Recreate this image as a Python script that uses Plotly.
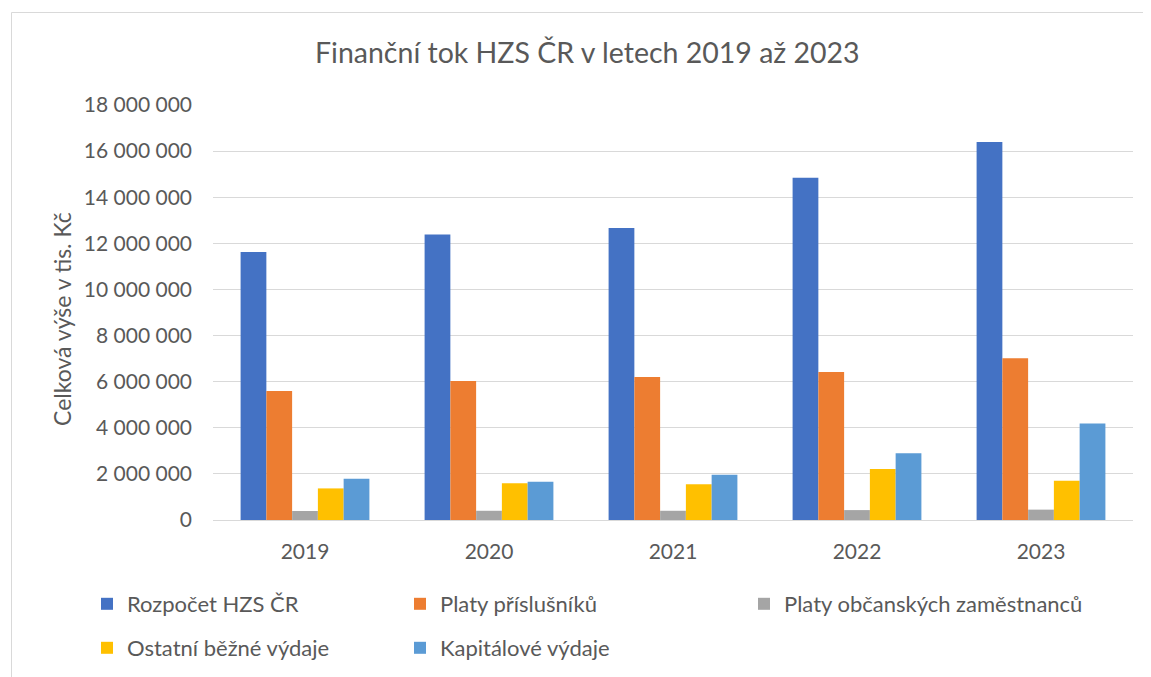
import plotly.graph_objects as go

years = ["2019", "2020", "2021", "2022", "2023"]
series_names = ["Rozpočet HZS ČR", "Platy příslušníků", "Platy občanských zaměstnanců",
                "Ostatní běžné výdaje", "Kapitálové výdaje"]
rozpocet = [11620000, 12380000, 12670000, 14840000, 16400000]
platy_prislusniku = [5590000, 6030000, 6200000, 6420000, 7020000]
platy_obcanskych = [390000, 400000, 400000, 430000, 450000]
ostatni_bezne = [1370000, 1590000, 1550000, 2210000, 1700000]
kapitalove = [1790000, 1660000, 1960000, 2890000, 4190000]
colors = ["#4472C4", "#ED7D31", "#A5A5A5", "#FFC000", "#5B9BD5"]
y_ticks = [0, 2000000, 4000000, 6000000, 8000000, 10000000, 12000000, 14000000, 16000000, 18000000]

values = [rozpocet, platy_prislusniku, platy_obcanskych, ostatni_bezne, kapitalove]

OFF = 8  # page body margin
W, H = 1151, 677
L, R, T, B = 213 - OFF, 1133 - OFF, 105 - OFF, 520 - OFF
pw, ph = R - L, B - T

def px(x):
    return (x - OFF - L) / pw

def py(y):
    return (B - (y - OFF)) / ph

FONT = "Lato"
TXT = "#595959"

fig = go.Figure()
legend_ids = ["legend", "legend2", "legend3", "legend4", "legend5"]
for i, (name, vals) in enumerate(zip(series_names, values)):
    fig.add_trace(go.Bar(
        x=years, y=vals, name=name, marker_color=colors[i],
        marker_line_width=0, legend=legend_ids[i], hoverinfo="skip"))

leg_pos = [(103, 604), (416, 604), (760, 604), (103, 648), (416, 648)]
legends = {}
for lid, (lx, ly) in zip(legend_ids, leg_pos):
    legends[lid] = dict(
        x=px(lx - 16), y=py(ly), xanchor="left", yanchor="middle",
        orientation="h", font=dict(family=FONT, size=22, color=TXT),
        bgcolor="rgba(0,0,0,0)", itemwidth=30, itemclick=False, itemdoubleclick=False)

fig.update_layout(
    width=W, height=H,
    margin=dict(l=L, r=W - R, t=T, b=H - B, pad=0),
    paper_bgcolor="white", plot_bgcolor="white",
    barmode="group", bargap=0.3, bargroupgap=0,
    separators=", ",
    font=dict(family=FONT, color=TXT, size=21),
    showlegend=True,
    xaxis=dict(showgrid=False, showline=False, ticks="", ticklabelstandoff=17,
               tickfont=dict(family=FONT, size=21, color=TXT)),
    yaxis=dict(range=[0, 18000000], tickvals=y_ticks, tickformat=",d",
               showgrid=True, gridcolor="#D9D9D9", gridwidth=1,
               zeroline=True, zerolinecolor="#D9D9D9", zerolinewidth=1,
               showline=False, ticks="", ticklabelstandoff=20,
               tickfont=dict(family=FONT, size=21, color=TXT)),
    annotations=[
        dict(text="Finanční tok HZS ČR v letech 2019 až 2023", xref="paper", yref="paper",
             x=px(587), y=py(52), xanchor="center", yanchor="middle", showarrow=False,
             font=dict(family=FONT, size=28.5, color=TXT)),
        dict(text="Celková výše v tis. Kč", xref="paper", yref="paper",
             x=px(62), y=py(319), xanchor="center", yanchor="middle", showarrow=False,
             textangle=-90, font=dict(family=FONT, size=23, color=TXT)),
    ],
    shapes=[
        dict(type="line", xref="paper", yref="paper", x0=px(11.5), x1=px(11.5),
             y0=py(12.5), y1=py(720), line=dict(color="#D9D9D9", width=1)),
        dict(type="line", xref="paper", yref="paper", x0=px(11.5), x1=px(1200),
             y0=py(12.5), y1=py(12.5), line=dict(color="#D9D9D9", width=1)),
    ],
    **legends,
)

fig.write_html("out.html")
